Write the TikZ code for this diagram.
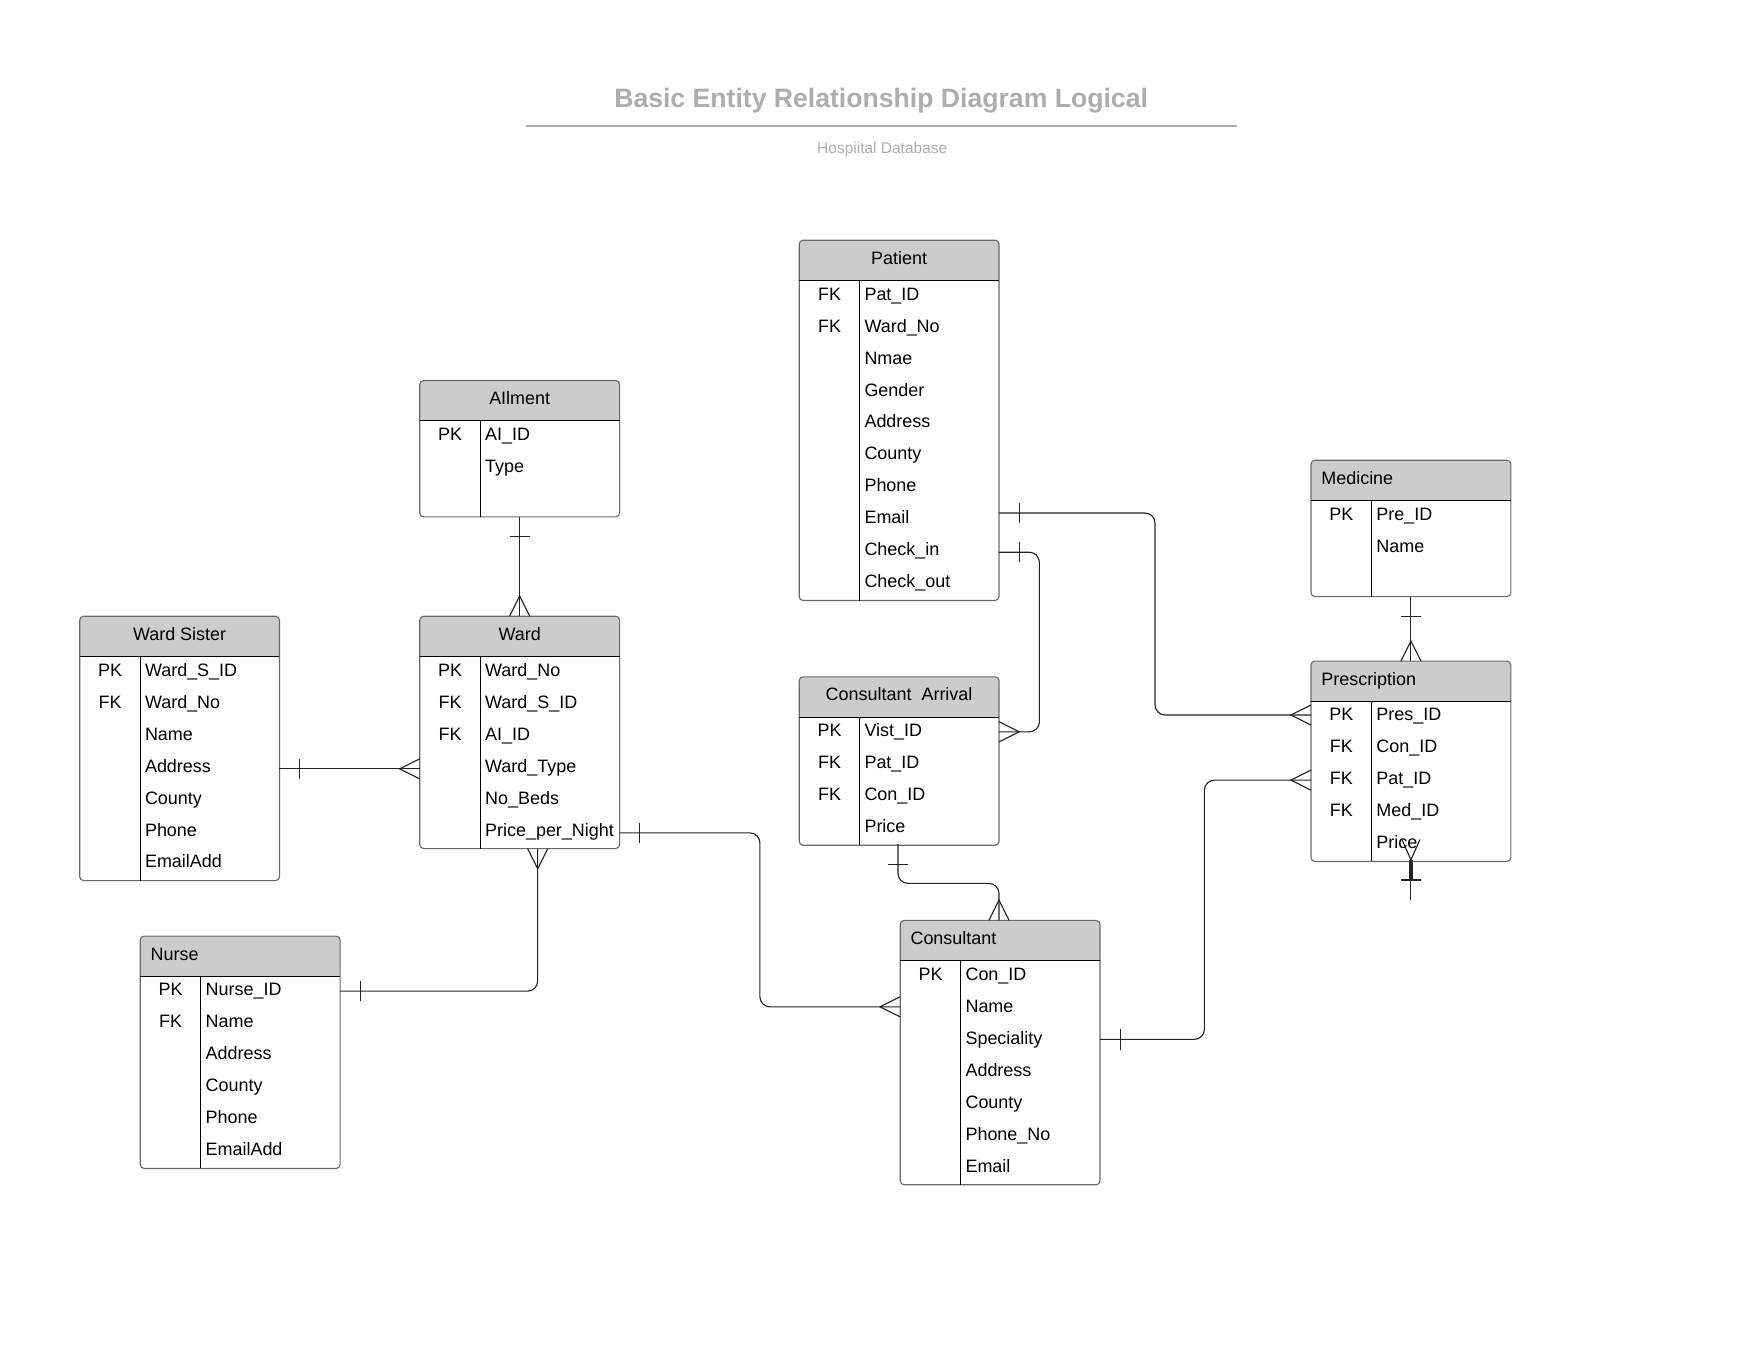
\documentclass[tikz,border=0pt]{standalone}
\usepackage{fontspec}
\setmainfont{Liberation Sans}
\definecolor{hdrgray}{HTML}{CCCCCC}
\definecolor{framegray}{HTML}{6A6A6A}
\definecolor{titlegray}{HTML}{ADADAD}
\definecolor{lnk}{HTML}{222222}
\newcommand{\ertable}[7]{%
  \pgfmathsetmacro{\tabh}{36+#4*28.5}%
  \fill[hdrgray, rounded corners=3.5pt] (#2,#3) rectangle ++(178,36);
  \fill[hdrgray] (#2,#3+18) rectangle ++(178,18);
  \node[frame, minimum height=\tabh pt, anchor=north west] (#1) at (#2,#3) {};
  \draw[sepline] (#2,#3+36) -- ++(178,0);
  \draw[sepline] (#2+54,#3+36) -- (#2+54,#3+\tabh);
  \ifx c#6
    \node[celltxt, anchor=base] (#1-title) at (#2+89,#3+21.5) {#5};
  \else
    \node[celltxt, anchor=base west] (#1-title) at (#2+9,#3+21.5) {#5};
  \fi
  \foreach \keyv/\fieldv [count=\i] in {#7} {
    \pgfmathsetmacro{\ry}{#3+53.3+(\i-1)*28.5}
    \ifx\keyv\empty\else
      \node[celltxt, anchor=base] (#1-k\i) at (#2+27,\ry) {\keyv};
    \fi
    \node[celltxt, anchor=base west] (#1-f\i) at (#2+58,\ry) {\fieldv};
  }%
}
\begin{document}
\begin{tikzpicture}[x=1pt,y=-1pt,
  frame/.style={draw=framegray, line width=1pt, rounded corners=3.5pt, inner sep=0pt, outer sep=0pt, minimum width=178pt},
  sepline/.style={draw=black, line width=0.9pt},
  celltxt/.style={font=\fontsize{16}{19}\selectfont, inner sep=0pt, text=black},
  conn/.style={draw=lnk, line width=1pt, rounded corners=9pt},
  tk/.style={draw=lnk, line width=1pt},
]
\useasboundingbox[fill=white] (0,0) rectangle (1568,1212);

% title
\node[font=\fontsize{23.7}{28}\selectfont\bfseries, text=titlegray, inner sep=0pt, anchor=base] (title) at (785,96) {Basic Entity Relationship Diagram Logical};
\coordinate (rule-l) at (469,112.5);
\coordinate (rule-r) at (1102,112.5);
\draw[titlegray, line width=2pt] (rule-l) -- (rule-r);
\node[font=\fontsize{13.8}{16}\selectfont, text=titlegray, inner sep=0pt, anchor=base] (subtitle) at (786,137) {Hospiital Database};

% tables
\ertable{patient}{712}{214}{10}{Patient}{c}{FK/Pat\_ID,FK/Ward\_No,/Nmae,/Gender,/Address,/County,/Phone,/Email,/Check\_in,/Check\_out}
\ertable{ailment}{374}{339}{3}{AIlment}{c}{PK/AI\_ID,/Type}
\ertable{wardsister}{71}{549}{7}{Ward Sister}{c}{PK/Ward\_S\_ID,FK/Ward\_No,/Name,/Address,/County,/Phone,/EmailAdd}
\ertable{ward}{374}{549}{6}{Ward}{c}{PK/Ward\_No,FK/Ward\_S\_ID,FK/AI\_ID,/Ward\_Type,/No\_Beds,/Price\_per\_Night}
\ertable{nurse}{125}{834}{6}{Nurse}{l}{PK/Nurse\_ID,FK/Name,/Address,/County,/Phone,/EmailAdd}
\ertable{conarr}{712}{603}{4}{Consultant\ \ Arrival}{c}{PK/Vist\_ID,FK/Pat\_ID,FK/Con\_ID,/Price}
\ertable{consultant}{802}{820}{7}{Consultant}{l}{PK/Con\_ID,/Name,/Speciality,/Address,/County,/Phone\_No,/Email}
\ertable{medicine}{1168}{410}{3}{Medicine}{l}{PK/Pre\_ID,/Name}
\ertable{prescription}{1168}{589}{5}{Prescription}{l}{PK/Pres\_ID,FK/Con\_ID,FK/Pat\_ID,FK/Med\_ID,/Price}

% connection points
\coordinate (ws-r) at (249,685);
\coordinate (wd-l) at (374,685);
\coordinate (wd-b) at (479,756);
\coordinate (nu-r) at (303,883);
\coordinate (wd-r) at (552,742);
\coordinate (c4a) at (677,742);
\coordinate (co-l) at (802,897);
\coordinate (pa-r1) at (890,457);
\coordinate (c5a) at (1029,457);
\coordinate (pr-l1) at (1168,637);
\coordinate (pa-r2) at (890,492);
\coordinate (c6a) at (926,492);
\coordinate (ca-r) at (890,652);
\coordinate (ca-b) at (800,752);
\coordinate (c7a) at (800,787);
\coordinate (co-t) at (890,820);
\coordinate (co-r) at (980,926);
\coordinate (c8a) at (1073,926);
\coordinate (pr-l2) at (1168,695);
\coordinate (pr-b) at (1257,766);
\coordinate (stub-end) at (1257,802);

% 1 Ailment - Ward
\draw[conn] (ailment.south) -- (ward.north);
\draw[tk] (454,478) -- (472,478);
\draw[tk] (454,549) -- (463,531) -- (472,549);
% 2 Ward Sister - Ward
\draw[conn] (ws-r) -- (wd-l);
\draw[tk] (267,676) -- (267,694);
\draw[tk] (374,676) -- (356,685) -- (374,694);
% 3 Ward - Nurse
\draw[conn] (wd-b) |- (nu-r);
\draw[tk] (470,756) -- (479,774) -- (488,756);
\draw[tk] (321,874) -- (321,892);
% 4 Ward - Consultant
\draw[conn] (wd-r) -- (c4a) |- (co-l);
\draw[tk] (570,733) -- (570,751);
\draw[tk] (802,888) -- (784,897) -- (802,906);
% 5 Patient - Prescription
\draw[conn] (pa-r1) -- (c5a) |- (pr-l1);
\draw[tk] (908,448) -- (908,466);
\draw[tk] (1168,628) -- (1150,637) -- (1168,646);
% 6 Patient - Consultant Arrival
\draw[conn] (pa-r2) -- (c6a) |- (ca-r);
\draw[tk] (908,483) -- (908,501);
\draw[tk] (890,643) -- (908,652) -- (890,661);
% 7 Consultant Arrival - Consultant
\draw[conn] (ca-b) -- (c7a) -| (co-t);
\draw[tk] (791,770) -- (809,770);
\draw[tk] (881,820) -- (890,802) -- (899,820);
% 8 Consultant - Prescription
\draw[conn] (co-r) -- (c8a) |- (pr-l2);
\draw[tk] (998,917) -- (998,935);
\draw[tk] (1168,686) -- (1150,695) -- (1168,704);
% 9 Medicine - Prescription
\draw[conn] (medicine.south) -- (prescription.north);
\draw[tk] (1248,549) -- (1266,549);
\draw[tk] (1248,589) -- (1257,571) -- (1266,589);
% 10 stub under Prescription
\draw[conn] (pr-b) -- (stub-end);
\draw[lnk, line width=3pt] (1257,766) -- (1257,784);
\draw[tk] (1248,784) -- (1266,784);
\draw[tk] (1249,748) -- (1257,766) -- (1265,748);
\end{tikzpicture}
\end{document}
